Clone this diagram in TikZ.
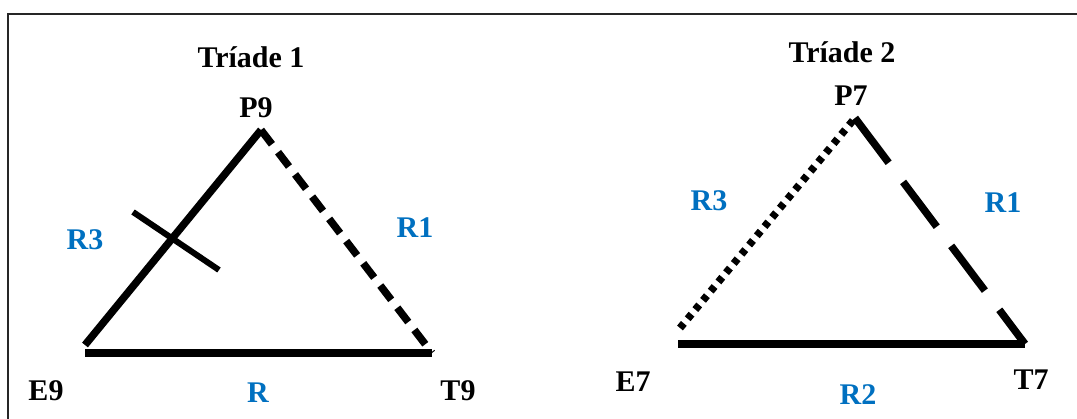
\documentclass[tikz,border=0pt]{standalone}
\usepackage{fontspec}
\setmainfont{Liberation Serif}
\definecolor{relblue}{RGB}{0,112,192}
\tikzset{
  vlabel/.style={font=\fontsize{30}{32}\selectfont\bfseries, text=black, inner sep=0pt},
  rlabel/.style={font=\fontsize{30}{32}\selectfont\bfseries, text=relblue, inner sep=0pt},
  side/.style={line width=7.5pt, black},
  sidedash/.style={side, dash pattern=on 18pt off 10pt},
  sidelong/.style={side, dash pattern=on 56pt off 24pt},
  sidedot/.style={side, dash pattern=on 6pt off 6pt}
}
\begin{document}
\begin{tikzpicture}[x=1pt, y=-1pt]
  \useasboundingbox (0,0) rectangle (1077,419);

  % --- 1. 枠 ---
  \draw[line width=2.5pt, black!85] (8,419) -- (8,14) -- (1077,14);

  % --- 2. Tríade 1 ---
  \coordinate (E9a) at (85,345);
  \coordinate (E9b) at (85,353);
  \coordinate (P9) at (261,130);
  \coordinate (T9) at (432,353);
  \coordinate (X1) at (133,212);
  \coordinate (X2) at (219,270);

  \draw[side] (E9a) -- (P9);
  \draw[sidedash] (P9) -- (T9);
  \draw[side] (E9b) -- (T9);
  % 交差する線 (R3)
  \draw[line width=6pt] (X1) -- (X2);

  \node[vlabel] (tri1) at (251,57) {Tríade 1};
  \node[vlabel] (p9) at (256,108) {P9};
  \node[vlabel] (e9) at (46,391) {E9};
  \node[vlabel] (t9) at (458,391) {T9};
  \node[rlabel] (r3a) at (85,240) {R3};
  \node[rlabel] (r1a) at (415,228) {R1};
  \node[rlabel] (ra) at (258,393) {R};

  % --- 3. Tríade 2 ---
  \coordinate (E7a) at (680,328);
  \coordinate (E7b) at (678,344);
  \coordinate (P7) at (855,118);
  \coordinate (T7) at (1025,344);

  \draw[sidedot] (E7a) -- (P7);
  \draw[sidelong] (P7) -- (T7);
  \draw[side] (E7b) -- (T7);

  \node[vlabel] (tri2) at (842,52) {Tríade 2};
  \node[vlabel] (p7) at (851,96) {P7};
  \node[vlabel] (e7) at (633,382) {E7};
  \node[vlabel] (t7) at (1031,380) {T7};
  \node[rlabel] (r3b) at (709,201) {R3};
  \node[rlabel] (r1b) at (1003,203) {R1};
  \node[rlabel] (r2b) at (858,395) {R2};

\end{tikzpicture}
\end{document}
